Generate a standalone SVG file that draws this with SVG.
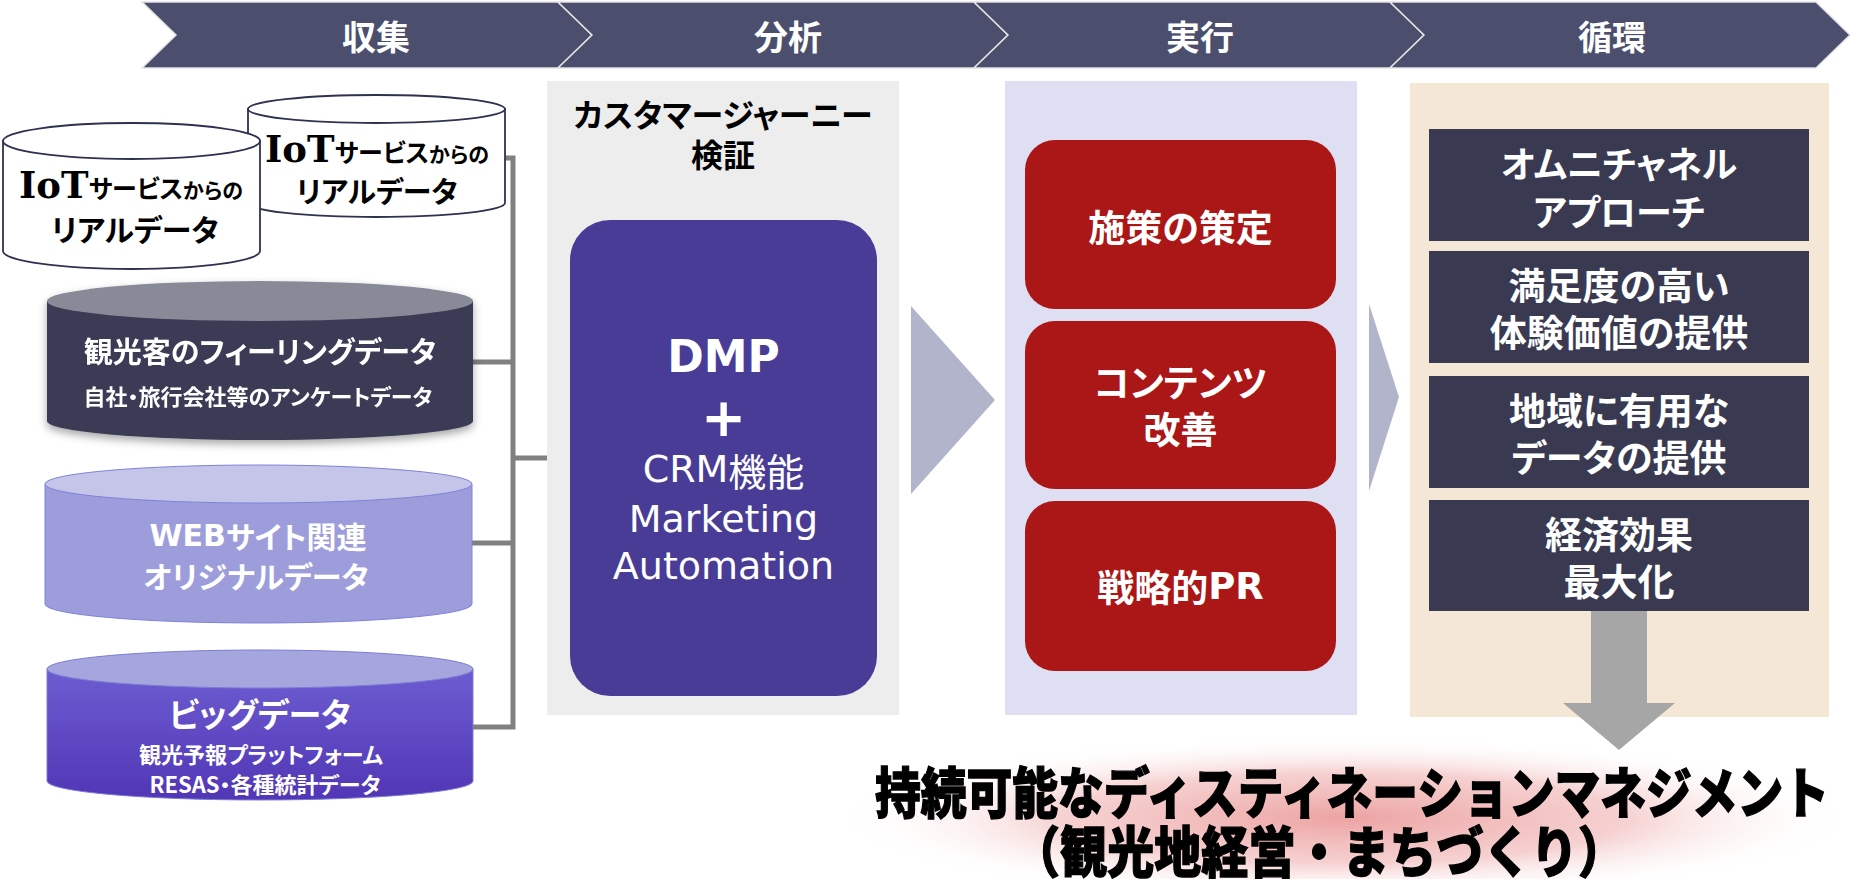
<svg xmlns="http://www.w3.org/2000/svg" width="1862" height="879" viewBox="0 0 1862 879">
<defs>
<style>
.jp{font-family:"Noto Sans CJK JP","Noto Sans CJK SC",sans-serif;font-weight:700;font-feature-settings:"palt";}
.w{fill:#FFFFFF;}
.k{fill:#000000;}
.c{text-anchor:middle;dominant-baseline:central;}
.lat{font-family:"DejaVu Sans",sans-serif;}
.ser{font-family:"DejaVu Serif",serif;font-weight:700;}
.seg{fill:#4B4F6D;stroke:#E4E4E4;stroke-width:1.5;}
.conn{fill:none;stroke:#808080;stroke-width:5;}
.wcyl{fill:#FFFFFF;stroke:#2E3250;stroke-width:1.8;}
.red{fill:#AB1616;}
.navy{fill:#393A52;}
.goal{font-family:"Noto Sans CJK JP",sans-serif;font-weight:900;fill:#000000;stroke:#000000;stroke-width:1.3;text-anchor:middle;dominant-baseline:central;}
</style>
<linearGradient id="bigBody" x1="0" y1="0" x2="0" y2="1">
<stop offset="0" stop-color="#6D5DD1"/>
<stop offset="1" stop-color="#5136B6"/>
</linearGradient>
<radialGradient id="glow" cx="0.5" cy="0.5" r="0.5">
<stop offset="0" stop-color="#EC9E9E" stop-opacity="0.95"/>
<stop offset="0.55" stop-color="#F2BDBD" stop-opacity="0.7"/>
<stop offset="1" stop-color="#FFFFFF" stop-opacity="0"/>
</radialGradient>
<filter id="shadow" x="-10%" y="-20%" width="120%" height="150%">
<feDropShadow dx="0" dy="4" stdDeviation="4" flood-color="#000000" flood-opacity="0.35"/>
</filter>
</defs>
<rect width="1862" height="879" fill="#FFFFFF"/>

<g id="banner">
<polygon class="seg" points="142,2 558,2 592,35 558,68 142,68 176,35"/>
<polygon class="seg" points="558,2 974,2 1008,35 974,68 558,68 592,35"/>
<polygon class="seg" points="974,2 1390,2 1424,35 1390,68 974,68 1008,35"/>
<polygon class="seg" points="1390,2 1816,2 1850,35 1816,68 1390,68 1424,35"/>
<text class="jp w c" x="376" y="35" font-size="34">収集</text>
<text class="jp w c" x="788" y="35" font-size="34">分析</text>
<text class="jp w c" x="1200" y="35" font-size="34">実行</text>
<text class="jp w c" x="1612" y="35" font-size="34">循環</text>
</g>

<g id="panels">
<rect x="547" y="81" width="352" height="634" fill="#EDEDED"/>
<rect x="1005" y="81" width="352" height="634" fill="#DFDFF3"/>
<rect x="1410" y="83" width="419" height="634" fill="#F4E7D6"/>
</g>

<g id="connectors">
<path class="conn" d="M505 158 H513 V727 H473"/>
<path class="conn" d="M473 362 H513"/>
<path class="conn" d="M472 543 H513"/>
<path class="conn" d="M513 458 H547"/>
<polygon points="911,306 995,400 911,494" fill="#B1B4CB"/>
<polygon points="1369,304 1399,397 1369,491" fill="#B1B4CB"/>
<polygon points="1591,611 1647,611 1647,703 1675,703 1619,750 1563,703 1591,703" fill="#A6A6A6"/>
</g>

<g id="cyl-iot-back">
<path class="wcyl" d="M248 109 V203 A128.5 14 0 0 0 505 203 V109 Z"/>
<ellipse class="wcyl" cx="376.5" cy="109" rx="128.5" ry="14"/>
<text x="377" y="162" text-anchor="middle"><tspan class="ser" font-size="37">IoT</tspan><tspan class="jp" font-size="25">サービス</tspan><tspan class="jp" font-size="21">からの</tspan></text>
<text class="jp k c" x="377" y="190" font-size="29">リアルデータ</text>
</g>

<g id="cyl-iot-front">
<path class="wcyl" d="M3 141 V251 A128.5 18 0 0 0 260 251 V141 Z"/>
<ellipse class="wcyl" cx="131.5" cy="141" rx="128.5" ry="18"/>
<text x="131" y="198" text-anchor="middle"><tspan class="ser" font-size="37">IoT</tspan><tspan class="jp" font-size="25">サービス</tspan><tspan class="jp" font-size="21">からの</tspan></text>
<text class="jp k c" x="135" y="228" font-size="30">リアルデータ</text>
</g>

<g id="cyl-feeling" filter="url(#shadow)">
<path d="M47 301 V421 A213 19 0 0 0 473 421 V301 Z" fill="#3A3B54"/>
<ellipse cx="260" cy="301" rx="213" ry="20" fill="#888A98"/>
<text class="jp w c" x="260" y="350" font-size="29">観光客のフィーリングデータ</text>
<text class="jp w c" x="258" y="395" font-size="22">自社・旅行会社等のアンケートデータ</text>
</g>

<g id="cyl-web">
<path d="M45 484 V604 A213.5 19 0 0 0 472 604 V484 Z" fill="#9D9DDC" stroke="#7E83D8" stroke-width="1"/>
<ellipse cx="258.5" cy="484" rx="213.5" ry="19" fill="#C5C5EA" stroke="#7E83D8" stroke-width="1"/>
<text class="jp w c" x="258" y="535" font-size="30"><tspan class="lat" font-weight="700">WEB</tspan>サイト関連</text>
<text class="jp w c" x="256" y="575" font-size="30">オリジナルデータ</text>
</g>

<g id="cyl-big">
<path d="M47 669 V781 A213 19 0 0 0 473 781 V669 Z" fill="url(#bigBody)" stroke="#7C7CD6" stroke-width="1"/>
<ellipse cx="260" cy="669" rx="213" ry="19" fill="#A6A6DF" stroke="#7C7CD6" stroke-width="1"/>
<text class="jp w c" x="260" y="713" font-size="33">ビッグデータ</text>
<text class="jp w c" x="261" y="753" font-size="22">観光予報プラットフォーム</text>
<text class="jp w c" x="265" y="783" font-size="22">RESAS・各種統計データ</text>
</g>

<g id="journey">
<text class="jp k c" x="723" y="113" font-size="32">カスタマージャーニー</text>
<text class="jp k c" x="723" y="153" font-size="32">検証</text>
</g>

<g id="dmp">
<rect x="570" y="220" width="307" height="476" rx="40" ry="40" fill="#493C96"/>
<text class="lat w c" x="723.5" y="356" font-size="44" font-weight="700">DMP</text>
<text class="lat w c" x="723.5" y="417" font-size="54" font-weight="700">+</text>
<text class="w c" x="723.5" y="469" font-size="38"><tspan class="lat">CRM</tspan><tspan class="jp" style="font-weight:400">機能</tspan></text>
<text class="lat w c" x="723.5" y="519" font-size="38">Marketing</text>
<text class="lat w c" x="723.5" y="566" font-size="38">Automation</text>
</g>

<g id="exec-1">
<rect class="red" x="1025" y="140" width="311" height="169" rx="30" ry="30"/>
<text class="jp w c" x="1180.5" y="226" font-size="37">施策の策定</text>
</g>
<g id="exec-2">
<rect class="red" x="1025" y="321" width="311" height="168" rx="30" ry="30"/>
<text class="jp w c" x="1180.5" y="381" font-size="37">コンテンツ</text>
<text class="jp w c" x="1180.5" y="428" font-size="37">改善</text>
</g>
<g id="exec-3">
<rect class="red" x="1025" y="501" width="311" height="170" rx="30" ry="30"/>
<text class="jp w c" x="1180.5" y="586" font-size="37">戦略的<tspan class="lat" font-weight="700">PR</tspan></text>
</g>

<g id="cycle-1">
<rect class="navy" x="1429" y="129" width="380" height="112"/>
<text class="jp w c" x="1619" y="162" font-size="36">オムニチャネル</text>
<text class="jp w c" x="1619" y="210" font-size="36">アプローチ</text>
</g>
<g id="cycle-2">
<rect class="navy" x="1429" y="251" width="380" height="112"/>
<text class="jp w c" x="1619" y="284" font-size="37">満足度の高い</text>
<text class="jp w c" x="1619" y="331" font-size="37">体験価値の提供</text>
</g>
<g id="cycle-3">
<rect class="navy" x="1429" y="376" width="380" height="112"/>
<text class="jp w c" x="1619" y="409" font-size="37">地域に有用な</text>
<text class="jp w c" x="1619" y="456" font-size="37">データの提供</text>
</g>
<g id="cycle-4">
<rect class="navy" x="1429" y="500" width="380" height="111"/>
<text class="jp w c" x="1619" y="533" font-size="37">経済効果</text>
<text class="jp w c" x="1619" y="580" font-size="37">最大化</text>
</g>

<g id="goal">
<ellipse cx="1345" cy="818" rx="510" ry="82" fill="url(#glow)"/>
<text class="goal" x="1352" y="789" font-size="55" textLength="954" lengthAdjust="spacingAndGlyphs">持続可能なディスティネーションマネジメント</text>
<text class="goal" x="1319" y="848" font-size="55" textLength="612" lengthAdjust="spacingAndGlyphs">（観光地経営・まちづくり）</text>
</g>
</svg>
